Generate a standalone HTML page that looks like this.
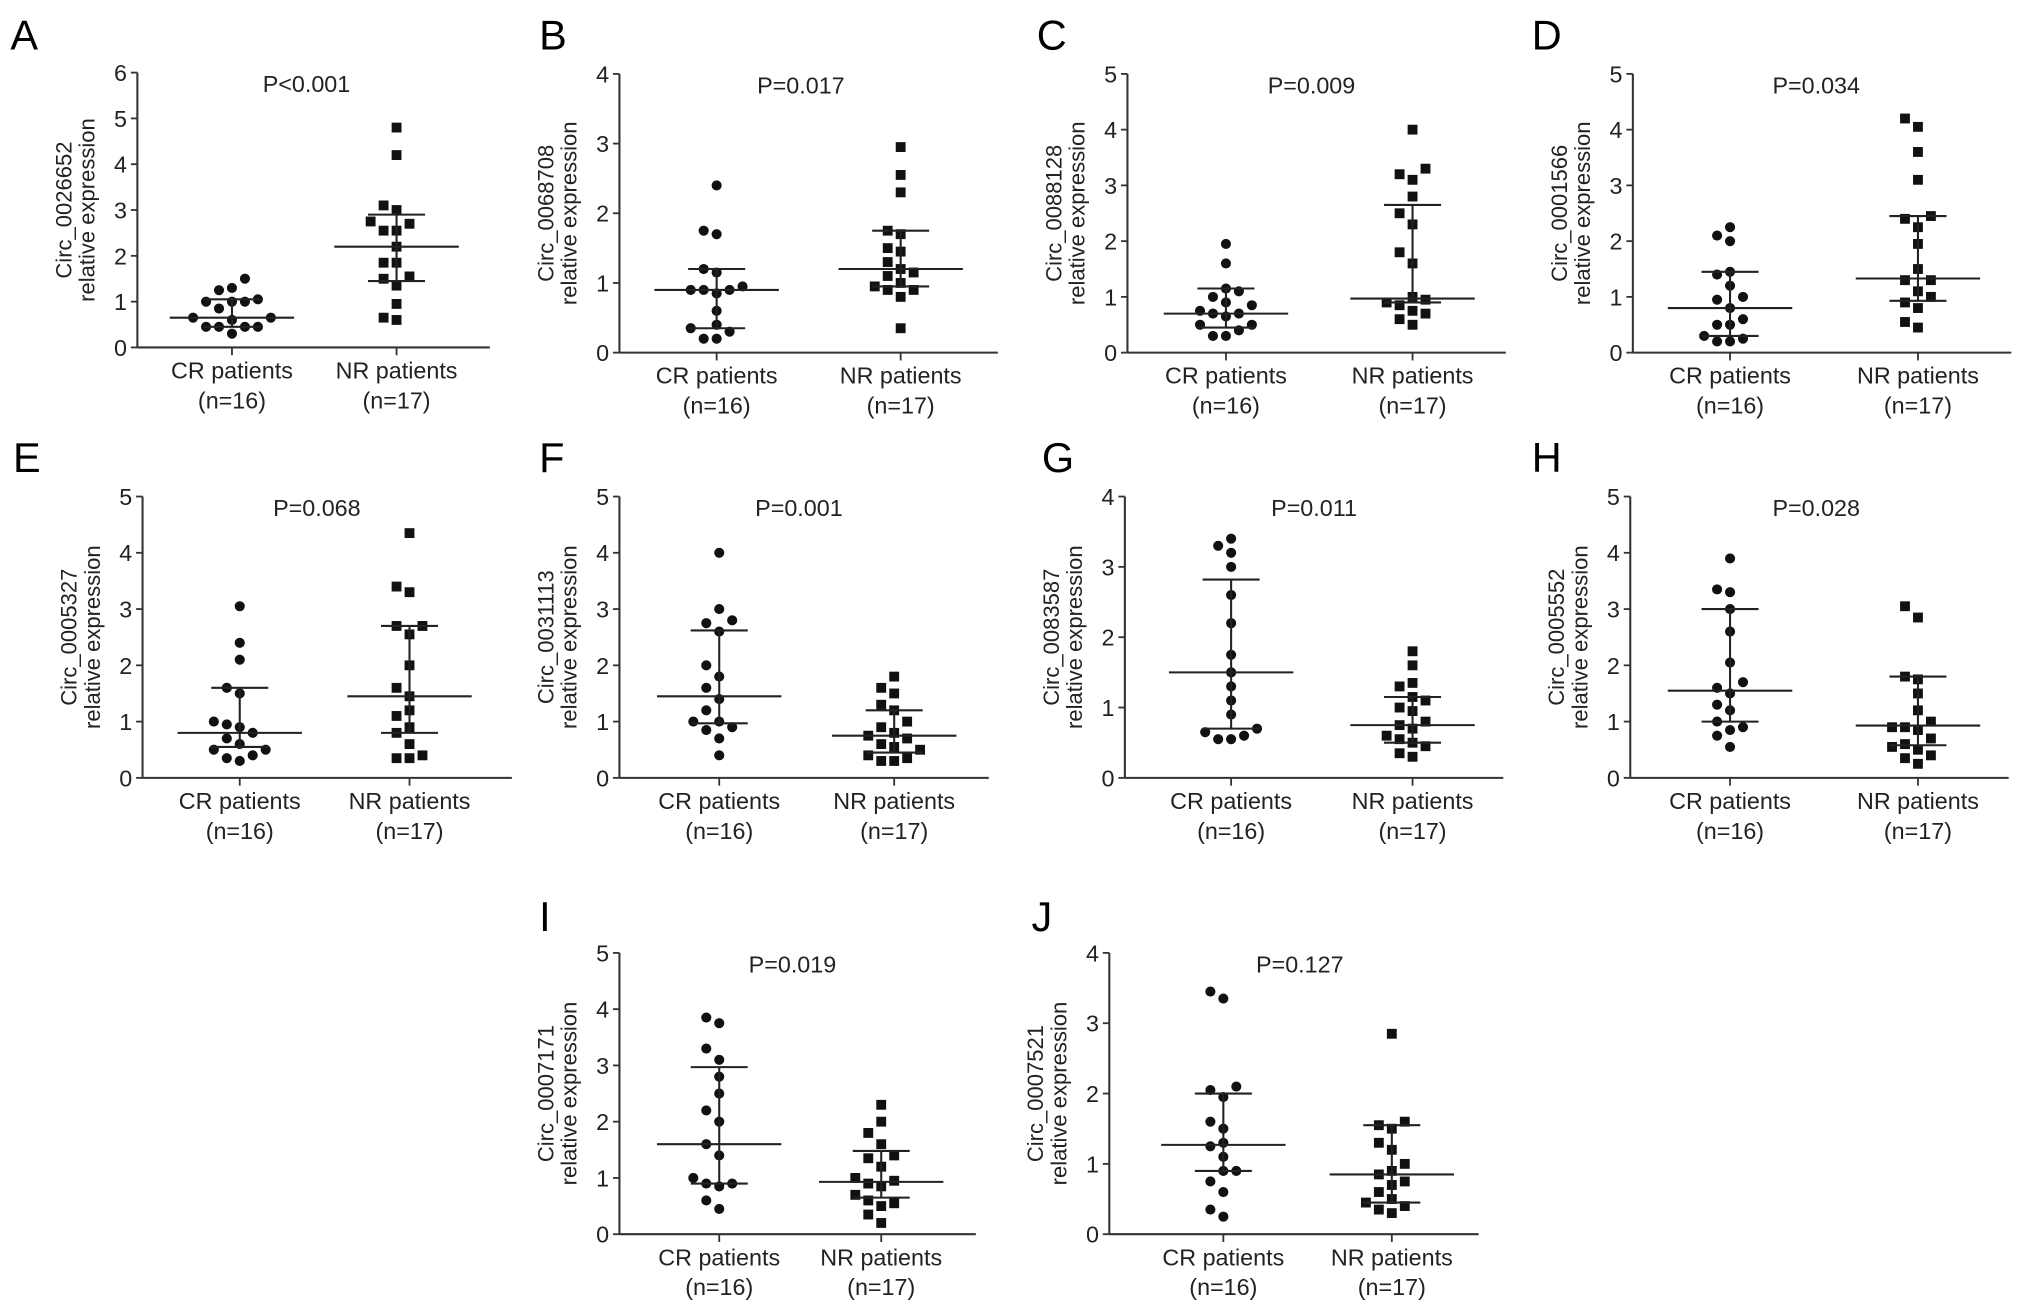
<!DOCTYPE html>
<html><head><meta charset="utf-8"><style>
html,body{margin:0;padding:0;background:#fff;}
svg{display:block;font-family:"Liberation Sans",Arial,sans-serif;}
</style></head><body>
<svg id="fig" width="2032" height="1312" viewBox="0 0 1568 1012" preserveAspectRatio="none" xmlns="http://www.w3.org/2000/svg"></svg>
<script>
const panelLetters=["A","B","C","D","E","F","G","H","I","J"];
const circIds=["Circ_0026652","Circ_0068708","Circ_0088128","Circ_0001566","Circ_0005327","Circ_0031113","Circ_0083587","Circ_0005552","Circ_0007171","Circ_0007521"];
const pValues=["P<0.001","P=0.017","P=0.009","P=0.034","P=0.068","P=0.001","P=0.011","P=0.028","P=0.019","P=0.127"];
const yMaxes=[6,4,5,5,5,5,4,5,5,4];
const groupLabels=["CR patients","NR patients"];
const groupN=["(n=16)","(n=17)"];
const crValues=[
[1.5,1.3,1.25,1.0,1.0,1.0,1.05,0.85,0.65,0.65,0.6,0.45,0.45,0.45,0.45,0.3],
[2.4,1.75,1.7,1.2,1.15,0.95,0.9,0.9,0.9,0.85,0.6,0.4,0.35,0.3,0.2,0.2],
[1.95,1.6,1.15,1.1,1.0,0.9,0.85,0.75,0.7,0.7,0.65,0.5,0.5,0.4,0.3,0.3],
[2.25,2.1,2.0,1.45,1.4,1.2,1.0,0.95,0.8,0.6,0.5,0.5,0.3,0.25,0.2,0.2],
[3.05,2.4,2.1,1.6,1.5,1.0,0.95,0.9,0.8,0.7,0.6,0.5,0.5,0.4,0.35,0.3],
[4.0,3.0,2.8,2.75,2.6,2.0,1.8,1.6,1.4,1.2,1.0,1.0,0.9,0.85,0.7,0.4],
[3.4,3.3,3.2,3.0,2.6,2.2,1.75,1.5,1.3,1.1,0.9,0.7,0.65,0.6,0.55,0.55],
[3.9,3.35,3.3,3.0,2.6,2.05,1.7,1.6,1.5,1.3,1.2,1.0,0.9,0.85,0.75,0.55],
[3.85,3.75,3.3,3.1,2.8,2.5,2.2,2.0,1.6,1.4,1.0,0.9,0.9,0.85,0.6,0.45],
[3.45,3.35,2.1,2.05,1.95,1.6,1.5,1.3,1.25,1.1,0.9,0.9,0.75,0.6,0.35,0.25]];
const nrValues=[
[4.8,4.2,3.1,3.0,2.75,2.7,2.55,2.55,2.2,1.85,1.85,1.55,1.5,1.35,0.95,0.6,0.65],
[2.95,2.55,2.3,1.75,1.7,1.5,1.45,1.3,1.2,1.15,1.1,1.0,0.95,0.9,0.9,0.8,0.35],
[4.0,3.3,3.2,3.1,2.8,2.5,2.3,1.8,1.6,1.0,0.95,0.9,0.85,0.75,0.7,0.6,0.5],
[4.2,4.05,3.6,3.1,2.45,2.4,2.25,1.95,1.5,1.3,1.3,1.1,1.0,0.9,0.8,0.55,0.45],
[4.35,3.4,3.3,2.7,2.7,2.55,2.0,1.6,1.45,1.2,1.1,0.9,0.8,0.6,0.4,0.35,0.35],
[1.8,1.6,1.5,1.3,1.2,1.0,0.9,0.8,0.75,0.7,0.6,0.55,0.5,0.4,0.35,0.3,0.3],
[1.8,1.6,1.35,1.3,1.15,1.1,1.0,0.95,0.8,0.75,0.7,0.6,0.55,0.5,0.45,0.35,0.3],
[3.05,2.85,1.8,1.75,1.5,1.2,1.0,0.9,0.9,0.85,0.7,0.6,0.55,0.5,0.4,0.35,0.25],
[2.3,2.0,1.8,1.6,1.4,1.35,1.2,1.0,0.95,0.9,0.85,0.7,0.6,0.55,0.5,0.35,0.2],
[2.85,1.6,1.55,1.5,1.3,1.2,1.0,0.9,0.85,0.75,0.7,0.6,0.5,0.45,0.4,0.35,0.3]];
const crMedian=[0.65,0.9,0.7,0.8,0.8,1.45,1.5,1.55,1.6,1.27];
const crLow=[0.45,0.35,0.45,0.3,0.55,0.97,0.7,1.0,0.9,0.9];
const crHigh=[1.05,1.2,1.15,1.45,1.6,2.62,2.82,3.0,2.97,2.0];
const nrMedian=[2.2,1.2,0.97,1.33,1.45,0.75,0.75,0.93,0.93,0.85];
const nrLow=[1.45,0.95,0.9,0.93,0.8,0.45,0.5,0.58,0.65,0.45];
const nrHigh=[2.9,1.75,2.65,2.45,2.7,1.2,1.15,1.8,1.48,1.55];

const layout=[
{ax:106,top:56,bot:268,len:272,cr:73,nr:200,lx:8,ly:38},
{ax:478,top:57,bot:272,len:292,cr:75,nr:217,lx:416,ly:38},
{ax:870,top:57,bot:272,len:292,cr:76,nr:220,lx:800,ly:38},
{ax:1260,top:57,bot:272,len:292,cr:75,nr:220,lx:1182,ly:38},
{ax:110,top:383,bot:600,len:285,cr:75,nr:206,lx:10,ly:364},
{ax:478,top:383,bot:600,len:285,cr:77,nr:212,lx:416,ly:364},
{ax:868,top:383,bot:600,len:292,cr:82,nr:222,lx:804,ly:364},
{ax:1258,top:383,bot:600,len:292,cr:77,nr:222,lx:1182,ly:364},
{ax:478,top:735,bot:952,len:275,cr:77,nr:202,lx:416,ly:718},
{ax:856,top:735,bot:952,len:285,cr:88,nr:218,lx:796,ly:718}];

const NS="http://www.w3.org/2000/svg";
const svg=document.getElementById('fig');
function mk(tag,attrs,parent){const e=document.createElementNS(NS,tag);for(const k in attrs)e.setAttribute(k,attrs[k]);(parent||svg).appendChild(e);return e;}
function txt(s,attrs,parent){const e=mk('text',attrs,parent);e.textContent=s;return e;}

function swarm(vals,yScale,cx){
  const placed=[];const sp=10;
  const order=vals.map((v,i)=>i).sort((a,b)=>vals[a]-vals[b]);
  const res=new Array(vals.length);
  for(const i of order){
    const y=yScale(vals[i]);
    const cands=[0,-1,1,-2,2,-3,3,-4,4];
    for(const c of cands){
      const x=cx+c*sp;
      if(placed.every(p=>Math.hypot(p[0]-x,p[1]-y)>=sp-0.5)){placed.push([x,y]);res[i]=[x,y];break;}
    }
    if(!res[i]){res[i]=[cx,y];}
  }
  return res;
}

layout.forEach((L,p)=>{
  const g=mk('g',{});
  
  
  const ymax=yMaxes[p];
  const yScale=v=>L.bot-(v/ymax)*(L.bot-L.top);
  const xCR=L.ax+L.cr, xNR=L.ax+L.nr;
  const letter=txt(panelLetters[p],{x:L.lx,y:L.ly,'font-size':32,fill:'#000'},g);
  
  
  const ya=mk('line',{x1:L.ax,y1:L.top,x2:L.ax,y2:L.bot,stroke:'#333','stroke-width':1.6},g);
  
  
  const xa=mk('line',{x1:L.ax,y1:L.bot,x2:L.ax+L.len,y2:L.bot,stroke:'#333','stroke-width':1.6},g);
  
  
  for(let t=0;t<=ymax;t++){
    const y=yScale(t);
    mk('line',{x1:L.ax-5,y1:y,x2:L.ax,y2:y,stroke:'#333','stroke-width':1.4},g);
    const tl=txt(String(t),{x:L.ax-8,y:y+6.5,'font-size':18,'text-anchor':'end',fill:'#222'},g);
    
    
  }
  [xCR,xNR].forEach((x,gi)=>{
    mk('line',{x1:x,y1:L.bot,x2:x,y2:L.bot+6,stroke:'#333','stroke-width':1.4},g);
    const a=txt(groupLabels[gi],{x:x,y:L.bot+24,'font-size':18,'text-anchor':'middle',fill:'#222'},g);
    
    
    const b=txt(groupN[gi],{x:x,y:L.bot+47,'font-size':18,'text-anchor':'middle',fill:'#222'},g);
    
    
  });
  const cy=(L.top+L.bot)/2;
  const yl=txt(circIds[p],{x:L.ax-51,y:cy,'font-size':17,'text-anchor':'middle',fill:'#222',transform:`rotate(-90 ${L.ax-51} ${cy})`},g);
  
  
  const yl2=txt('relative expression',{x:L.ax-33,y:cy,'font-size':17,'text-anchor':'middle',fill:'#222',transform:`rotate(-90 ${L.ax-33} ${cy})`},g);
  
  
  const pv=txt(pValues[p],{x:(xCR+xNR)/2-6,y:L.top+15,'font-size':18,'text-anchor':'middle',fill:'#222'},g);
  
  
  swarm(crValues[p],yScale,xCR).forEach(([x,y])=>{
    const c=mk('circle',{cx:x,cy:y,r:3.9,fill:'#111'},g);
    
    
  });
  swarm(nrValues[p],yScale,xNR).forEach(([x,y])=>{
    const s=mk('rect',{x:x-3.8,y:y-3.8,width:7.6,height:7.6,fill:'#111'},g);
    
    
  });
  [[xCR,crMedian[p],crLow[p],crHigh[p],'cr'],[xNR,nrMedian[p],nrLow[p],nrHigh[p],'nr']].forEach(([x,m,lo,hi,n])=>{
    const ml=mk('line',{x1:x-48,y1:yScale(m),x2:x+48,y2:yScale(m),stroke:'#222','stroke-width':1.6},g);
    
    
    const v=mk('line',{x1:x,y1:yScale(lo),x2:x,y2:yScale(hi),stroke:'#222','stroke-width':1.6},g);
    
    
    [lo,hi].forEach(val=>{
      const c=mk('line',{x1:x-22,y1:yScale(val),x2:x+22,y2:yScale(val),stroke:'#222','stroke-width':1.6},g);
      
      
    });
  });
});
</script>
</body></html>
